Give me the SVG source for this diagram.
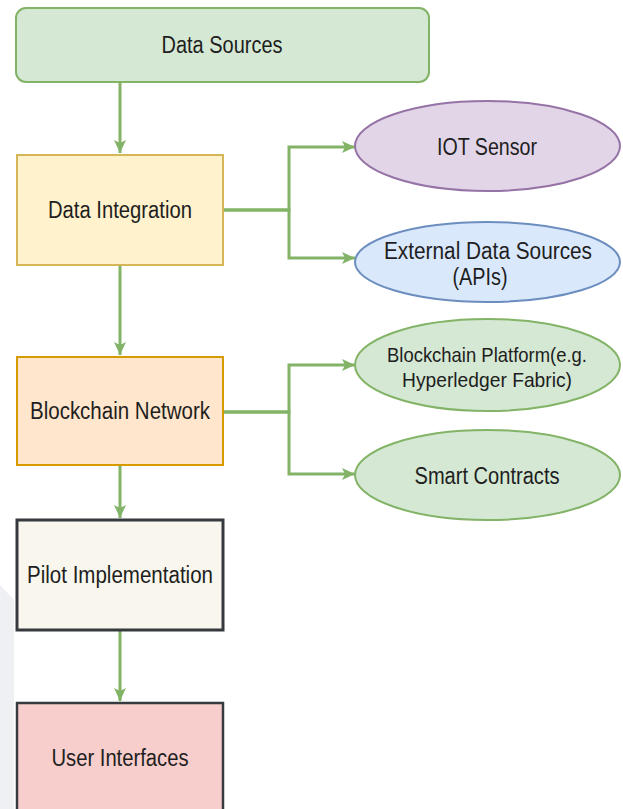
<svg xmlns="http://www.w3.org/2000/svg" width="623" height="809" viewBox="0 0 623 809">
<defs>
<marker id="arr" markerUnits="userSpaceOnUse" markerWidth="14" markerHeight="12" refX="13" refY="6" orient="auto">
<path d="M0,0 L13,6 L0,12 L3,6 Z" fill="#82b366"/>
</marker>
<style>
.t{font-family:"Liberation Sans",Arial,sans-serif;font-size:23px;fill:#1e1e1e;text-anchor:middle}
.s{font-size:21px}
.c{fill:none;stroke:#82b366;stroke-width:3}
.box{stroke-width:2}
</style>
</defs>
<rect width="623" height="809" fill="#ffffff"/>
<polygon points="0,585 14,600 14,809 0,809" fill="#eef0f3"/>
<g id="connectors">
<path class="c" d="M120,82 V153" marker-end="url(#arr)"/>
<path class="c" d="M120,265 V355" marker-end="url(#arr)"/>
<path class="c" d="M120,465 V518" marker-end="url(#arr)"/>
<path class="c" d="M120,631 V701" marker-end="url(#arr)"/>
<path class="c" d="M223,210 H289 V147 H355" marker-end="url(#arr)"/>
<path class="c" d="M223,210 H289 V258 H355" marker-end="url(#arr)"/>
<path class="c" d="M223,412 H289 V365 H355" marker-end="url(#arr)"/>
<path class="c" d="M223,412 H289 V474 H355" marker-end="url(#arr)"/>
</g>
<g id="data-sources">
<rect class="box" x="16" y="8" width="413" height="74" rx="10" fill="#d5e8d4" stroke="#82b366"/>
<text class="t" x="222" y="53" textLength="121" lengthAdjust="spacingAndGlyphs">Data Sources</text>
</g>
<g id="data-integration">
<rect class="box" x="17" y="155" width="206" height="110" fill="#fff2cc" stroke="#d6b656"/>
<text class="t" x="120" y="218" textLength="144" lengthAdjust="spacingAndGlyphs">Data Integration</text>
</g>
<g id="iot-sensor">
<ellipse class="box" cx="487.5" cy="146" rx="132.5" ry="45" fill="#e1d5e7" stroke="#9673a6"/>
<text class="t" x="487" y="155" textLength="100" lengthAdjust="spacingAndGlyphs">IOT Sensor</text>
</g>
<g id="external-data-sources">
<ellipse class="box" cx="487.5" cy="262" rx="132.5" ry="40" fill="#dae8fc" stroke="#6c8ebf"/>
<text class="t" x="488" y="259" textLength="208" lengthAdjust="spacingAndGlyphs">External Data Sources</text>
<text class="t" x="480" y="285" textLength="55" lengthAdjust="spacingAndGlyphs">(APIs)</text>
</g>
<g id="blockchain-network">
<rect class="box" x="17" y="357" width="206" height="108" fill="#ffe6cc" stroke="#d79b00"/>
<text class="t" x="120" y="419" textLength="180" lengthAdjust="spacingAndGlyphs">Blockchain Network</text>
</g>
<g id="blockchain-platform">
<ellipse class="box" cx="487.5" cy="365" rx="132.5" ry="46" fill="#d5e8d4" stroke="#82b366"/>
<text class="t s" x="487" y="362" textLength="200" lengthAdjust="spacingAndGlyphs">Blockchain Platform(e.g.</text>
<text class="t s" x="487" y="387" textLength="170" lengthAdjust="spacingAndGlyphs">Hyperledger Fabric)</text>
</g>
<g id="smart-contracts">
<ellipse class="box" cx="487.5" cy="475" rx="132.5" ry="45" fill="#d5e8d4" stroke="#82b366"/>
<text class="t" x="487" y="484" textLength="145" lengthAdjust="spacingAndGlyphs">Smart Contracts</text>
</g>
<g id="pilot-implementation">
<rect x="17" y="520" width="206" height="110" fill="#f9f7ed" stroke="#36393d" stroke-width="3"/>
<text class="t" x="120" y="583" textLength="186" lengthAdjust="spacingAndGlyphs">Pilot Implementation</text>
</g>
<g id="user-interfaces">
<rect x="17" y="703" width="206" height="110" fill="#f8cecc" stroke="#36393d" stroke-width="2.5"/>
<text class="t" x="120" y="766" textLength="137" lengthAdjust="spacingAndGlyphs">User Interfaces</text>
</g>
</svg>
